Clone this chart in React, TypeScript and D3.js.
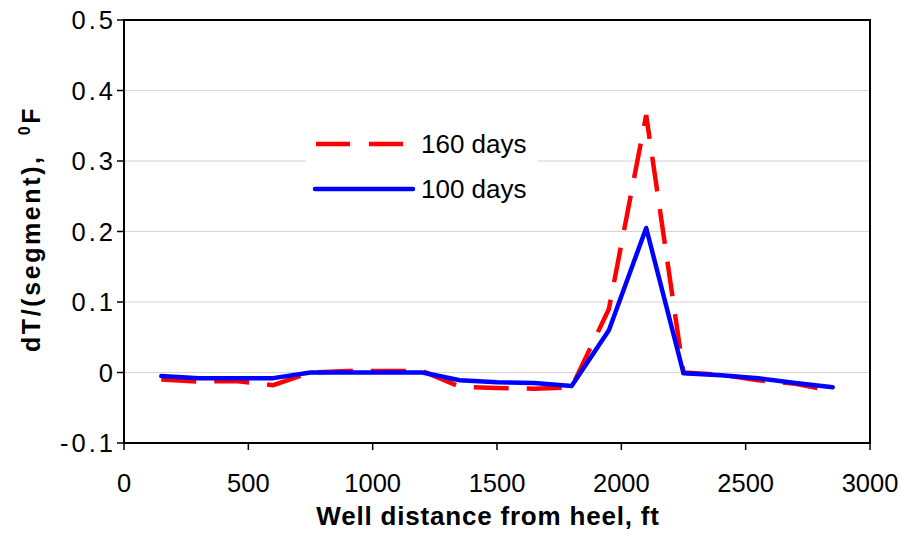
import React from "react";
import * as d3 from "d3";

const distances = [150, 300, 450, 600, 750, 900, 1050, 1200, 1350, 1500, 1650, 1800, 1950, 2100, 2250, 2400, 2550, 2700, 2850];
const days160 = [-0.01, -0.013, -0.012, -0.018, 0.0, 0.002, 0.002, 0.002, -0.02, -0.022, -0.023, -0.021, 0.09, 0.365, 0.0, -0.003, -0.011, -0.016, -0.026];
const days100 = [-0.005, -0.008, -0.008, -0.008, 0.0, 0.0, 0.0, 0.0, -0.011, -0.014, -0.015, -0.019, 0.06, 0.205, -0.001, -0.004, -0.008, -0.015, -0.021];
const xTicks = [0, 500, 1000, 1500, 2000, 2500, 3000];
const yTicks = [-0.1, 0, 0.1, 0.2, 0.3, 0.4, 0.5];
const yTickLabels = ["-0.1", "0", "0.1", "0.2", "0.3", "0.4", "0.5"];
const seriesNames = ["160 days", "100 days"];

export default function App() {
  const W = 902, H = 537;
  const left = 124, right = 870, top = 20, bottom = 443;
  const x = d3.scaleLinear().domain([0, 3000]).range([left, right]);
  const y = d3.scaleLinear().domain([-0.1, 0.5]).range([bottom, top]);
  const line = d3.line<[number, number]>().x(d => x(d[0])).y(d => y(d[1]));
  const red = line(distances.map((d, i) => [d, days160[i]] as [number, number])) || "";
  const blue = line(distances.map((d, i) => [d, days100[i]] as [number, number])) || "";
  const font = "'Liberation Sans', Arial, Helvetica, sans-serif";

  return (
    <svg width={W} height={H} style={{ position: "absolute", left: 0, top: 0, background: "#fff" }} fontFamily={font}>
      <rect x={0} y={0} width={W} height={H} fill="#fff" />
      {yTicks.filter(v => v > -0.1 && v < 0.5).map(v => (
        <line key={"g" + v} x1={left} x2={right} y1={y(v)} y2={y(v)} stroke="#d4d4d4" strokeWidth={1.2} />
      ))}
      {/* legend background */}
      <rect x={306} y={118} width={232} height={94} fill="#fff" />
      <path d={red} fill="none" stroke="#ff0000" strokeWidth={4.5} strokeDasharray="35,18" strokeLinejoin="miter" />
      <path d={blue} fill="none" stroke="#0000ff" strokeWidth={4.5} strokeLinejoin="round" strokeLinecap="round" />
      {/* frame */}
      <rect x={left} y={top} width={right - left} height={bottom - top} fill="none" stroke="#000" strokeWidth={2} />
      {yTicks.map((v, i) => (
        <g key={"yt" + v}>
          <line x1={left - 7} x2={left} y1={y(v)} y2={y(v)} stroke="#000" strokeWidth={1.5} />
          <text x={116} y={y(v)} dy="0.36em" textAnchor="end" fontSize={25.5} letterSpacing={3} fill="#000">{yTickLabels[i]}</text>
        </g>
      ))}
      {xTicks.map(v => (
        <g key={"xt" + v}>
          <line x1={x(v)} x2={x(v)} y1={bottom} y2={bottom + 7} stroke="#000" strokeWidth={1.5} />
          <text x={x(v)} y={491.5} textAnchor="middle" fontSize={25.5} fill="#000">{v}</text>
        </g>
      ))}
      <text x={488} y={525} textAnchor="middle" fontSize={26} fontWeight="bold" letterSpacing={0.8} fill="#000">Well distance from heel, ft</text>
      <text transform={`translate(40, 229) rotate(-90)`} textAnchor="middle" fontSize={25} fontWeight="bold" letterSpacing={2.6} fill="#000">
        dT/(segment),{"\u00a0\u00a0"}<tspan dy={-10} fontSize={16}>0</tspan><tspan dy={10}>F</tspan>
      </text>
      {/* legend */}
      <line x1={316} x2={403} y1={144} y2={144} stroke="#ff0000" strokeWidth={4.5} strokeDasharray="34,19" />
      <text x={421} y={144} dy="0.36em" fontSize={26} fill="#000">{seriesNames[0]}</text>
      <line x1={315} x2={413} y1={189} y2={189} stroke="#0000ff" strokeWidth={4.5} strokeLinecap="round" />
      <text x={421} y={189} dy="0.36em" fontSize={26} fill="#000">{seriesNames[1]}</text>
    </svg>
  );
}
